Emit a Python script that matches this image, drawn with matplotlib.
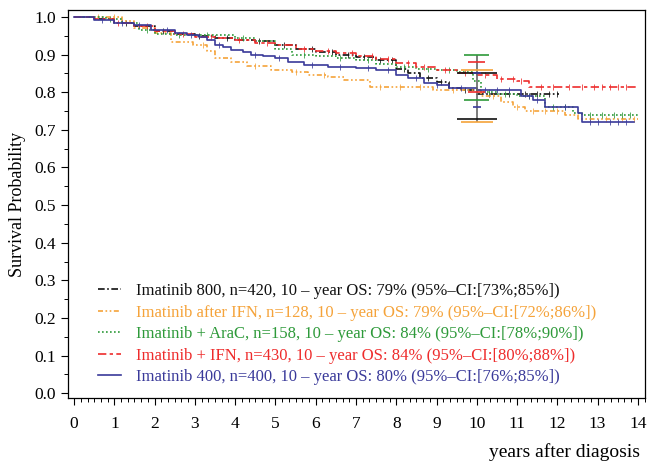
import numpy as np
import matplotlib
matplotlib.use("Agg")
import matplotlib.pyplot as plt
from matplotlib.ticker import MultipleLocator

plt.rcParams["font.family"] = ["Liberation Serif", "DejaVu Serif"]

# Kaplan-Meier step curves (time in years, survival after step)
black_t = [0, 0.5, 1.0, 1.5, 2.0, 2.5, 3.0, 3.5, 4.0, 4.5, 5.0, 5.5, 6.0, 6.5, 7.0, 7.5,
           8.0, 8.3, 8.6, 9.0, 9.3, 9.6, 10.0, 12.05]
black_s = [1.0, 0.995, 0.985, 0.975, 0.962, 0.955, 0.95, 0.945, 0.94, 0.935, 0.925, 0.915,
           0.908, 0.90, 0.893, 0.885, 0.862, 0.85, 0.838, 0.828, 0.812, 0.805, 0.795, 0.795]

orange_t = [0, 1.2, 1.5, 2.0, 2.4, 2.95, 3.3, 3.5, 3.9, 4.3, 4.9, 5.4, 5.8, 6.3, 6.7, 7.35,
            8.9, 10.1, 10.6, 10.9, 11.2, 12.2, 12.5, 14.0]
orange_s = [1.0, 0.99, 0.97, 0.958, 0.934, 0.926, 0.91, 0.89, 0.881, 0.87, 0.86, 0.853,
            0.847, 0.84, 0.833, 0.815, 0.807, 0.79, 0.775, 0.762, 0.749, 0.74, 0.728, 0.728]

green_t = [0, 0.8, 1.2, 1.6, 2.0, 2.5, 3.0, 3.5, 4.0, 4.5, 5.0, 5.4, 6.0, 6.5, 7.0, 7.5,
           8.0, 8.5, 9.0, 9.5, 9.9, 10.1, 10.5, 11.0, 11.7, 12.4, 12.6, 14.0]
green_s = [1.0, 0.995, 0.985, 0.965, 0.955, 0.952, 0.952, 0.952, 0.945, 0.935, 0.915, 0.90,
           0.895, 0.89, 0.885, 0.875, 0.868, 0.862, 0.858, 0.855, 0.83, 0.80, 0.795, 0.79,
           0.76, 0.745, 0.74, 0.74]

red_t = [0, 0.5, 1.0, 1.5, 2.0, 2.5, 3.0, 3.5, 4.0, 4.5, 5.0, 5.5, 6.0, 6.5, 7.0, 7.5,
         8.0, 8.5, 9.0, 9.5, 10.0, 10.5, 11.0, 11.3, 14.0]
red_s = [1.0, 0.995, 0.985, 0.975, 0.962, 0.955, 0.948, 0.945, 0.94, 0.932, 0.925, 0.915,
         0.91, 0.905, 0.897, 0.888, 0.878, 0.866, 0.858, 0.85, 0.845, 0.835, 0.83, 0.815, 0.815]

blue_t = [0, 0.5, 1.0, 1.5, 1.9, 2.5, 2.8, 3.1, 3.3, 3.5, 3.7, 3.9, 4.2, 4.4, 4.7, 5.0, 5.3,
          5.7, 6.3, 7.0, 7.5, 8.0, 8.3, 8.7, 9.0, 9.3, 10.0, 11.1, 11.4, 11.7, 12.5, 12.6, 13.9]
blue_s = [1.0, 0.992, 0.985, 0.978, 0.966, 0.958, 0.952, 0.947, 0.938, 0.926, 0.92, 0.913,
          0.906, 0.90, 0.895, 0.89, 0.88, 0.872, 0.868, 0.865, 0.86, 0.845, 0.838, 0.825,
          0.818, 0.81, 0.805, 0.79, 0.778, 0.762, 0.746, 0.722, 0.722]

# censoring times
black_c = [1.3, 2.2, 3.1, 3.8, 4.6, 5.2, 5.9, 6.4, 6.8, 7.2, 7.6, 7.9, 8.2, 8.8, 9.1, 9.7,
           10.3, 10.8, 11.2, 11.5, 11.8, 12.0]
orange_c = [0.6, 1.0, 3.2, 4.5, 5.5, 6.2, 7.6, 8.1, 8.6, 9.4, 10.4, 11.0, 11.4, 11.7, 12.0,
            12.8, 13.2, 13.6, 13.9]
green_c = [0.9, 1.8, 2.6, 3.3, 4.2, 5.7, 6.6, 7.3, 8.2, 8.8, 9.3, 10.3, 10.7, 11.3, 11.9,
           12.2, 12.8, 13.1, 13.4, 13.6, 13.8]
red_c = [1.1, 1.8, 2.7, 3.4, 4.1, 4.8, 5.7, 6.3, 6.9, 7.4, 7.8, 8.3, 8.7, 9.2, 9.7, 10.2,
         10.6, 10.9, 11.1, 11.6, 11.9, 12.3, 12.6, 12.9, 13.1, 13.3, 13.5, 13.7]
blue_c = [0.7, 1.2, 1.6, 2.3, 2.9, 3.6, 4.5, 5.1, 5.9, 6.6, 7.3, 7.8, 8.5, 9.0, 9.6, 10.2,
          10.5, 10.8, 11.3, 11.5, 12.2, 12.8, 13.0, 13.3, 13.5, 13.7]

# 10-year OS estimate and 95% CI
ci_lo = [0.73, 0.72, 0.78, 0.80, 0.76]
ci_hi = [0.85, 0.86, 0.90, 0.88, 0.85]

labels = [
    "Imatinib 800, n=420, 10 \u2013 year OS: 79% (95%\u2013CI:[73%;85%])",
    "Imatinib after IFN, n=128, 10 \u2013 year OS: 79% (95%\u2013CI:[72%;86%])",
    "Imatinib + AraC, n=158, 10 \u2013 year OS: 84% (95%\u2013CI:[78%;90%])",
    "Imatinib + IFN, n=430, 10 \u2013 year OS: 84% (95%\u2013CI:[80%;88%])",
    "Imatinib 400, n=400, 10 \u2013 year OS: 80% (95%\u2013CI:[76%;85%])",
]

colors = ["#111111", "#F5A33A", "#2E9A3A", "#EE2C2C", "#3A3A9A"]
styles = [(0, (4, 1.5, 1, 1.5)), (0, (3, 1.5, 1, 1.5, 1, 1.5)), (0, (1, 1.4)),
          (0, (5, 2, 2, 2)), "-"]
cap_w = [1.0, 0.8, 0.62, 0.42, 0.2]

curves = [(black_t, black_s, black_c), (orange_t, orange_s, orange_c),
          (green_t, green_s, green_c), (red_t, red_s, red_c), (blue_t, blue_s, blue_c)]

fig = plt.figure(figsize=(6.48, 4.63), dpi=100)
ax = fig.add_axes([0.105, 0.141, 0.89, 0.837])

handles = []
for (t, s, c), col, ls, lab in zip(curves, colors, styles, labels):
    h, = ax.step(t, s, where="post", color=col, linestyle=ls, linewidth=1.2, label=lab)
    handles.append(h)
    t_arr = np.array(t)
    s_arr = np.array(s)
    idx = np.searchsorted(t_arr, np.array(c), side="right") - 1
    ax.plot(c, s_arr[idx], linestyle="none", marker="|", markersize=4,
            markeredgewidth=0.7, color=col, alpha=0.8)

# confidence intervals at 10 years
ax.vlines(10, min(ci_lo), max(ci_hi), color="#666666", linewidth=1.2, zorder=4)
for lo, hi, col, w in zip(ci_lo, ci_hi, colors, cap_w):
    ax.hlines([lo, hi], 10 - w / 2, 10 + w / 2, color=col, linewidth=1.2, zorder=5)

ax.set_xlim(-0.15, 14.17)
ax.set_ylim(-0.012, 1.018)
ax.xaxis.set_major_locator(MultipleLocator(1))
ax.xaxis.set_minor_locator(MultipleLocator(1 / 6))
ax.yaxis.set_major_locator(MultipleLocator(0.1))
ax.yaxis.set_minor_locator(MultipleLocator(0.05))
ax.yaxis.set_major_formatter(matplotlib.ticker.FormatStrFormatter("%.1f"))
ax.tick_params(which="major", direction="out", length=5, width=0.8, labelsize=12.5)
ax.tick_params(which="minor", direction="out", length=3, width=0.7)
ax.tick_params(axis="x", pad=8)
for sp in ax.spines.values():
    sp.set_linewidth(0.9)

ax.set_ylabel("Survival Probability", fontsize=13, labelpad=6)
fig.text(0.988, 0.005, "years after diagosis", fontsize=14, ha="right", va="bottom")

leg = ax.legend(handles=handles, loc="lower left", bbox_to_anchor=(0.03, 0.0),
                frameon=False, fontsize=12, handlelength=1.4, handletextpad=0.9,
                labelspacing=0.33, borderaxespad=0.35)
for txt, col in zip(leg.get_texts(), colors):
    txt.set_color(col)

fig.savefig("out.png", dpi=100)
